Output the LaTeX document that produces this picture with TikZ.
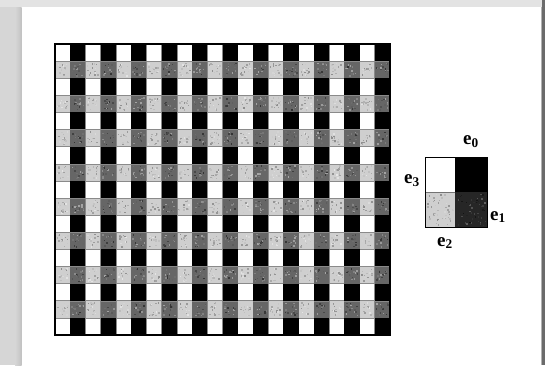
\documentclass[tikz,border=0pt]{standalone}
\usepackage{fontspec}
\setmainfont{Liberation Serif}
\definecolor{lgrey}{HTML}{CFCFCF}
\definecolor{dgrey}{HTML}{666666}
\definecolor{ddgrey}{HTML}{262626}
\definecolor{cellline}{HTML}{8A8A8A}
\definecolor{sidegrey}{HTML}{D6D6D6}
\tikzset{
  whitecell/.style={fill=white,draw=cellline,line width=0.6pt},
  lightcell/.style={fill=lgrey,draw=cellline,line width=0.6pt},
  darkcell/.style={fill=dgrey},
  blackcell/.style={fill=black},
  elabel/.style={font=\fontsize{19}{19}\selectfont\bfseries,inner sep=0pt}
}
\newcommand{\GX}{55}
\newcommand{\GY}{44}
\newcommand{\CW}{15.227}
\newcommand{\RH}{17.118}
\begin{document}
\begin{tikzpicture}[x=1pt,y=-1pt]
\useasboundingbox (0,0) rectangle (545,365);
% page background
\fill[white] (0,0) rectangle (545,365);
\fill[black!11] (0,0) rectangle (545,7);
\fill[sidegrey] (0,7) rectangle (15,365);
\shade[left color=sidegrey,right color=black!24] (15,7) rectangle (21.5,365);
\fill[black!58] (542,0) rectangle (545,365);
\fill[black!30] (541,7) rectangle (542,365);
\pgfmathsetseed{7}
% white/black rows
\foreach \r in {0,2,...,16}{
  \foreach \c in {0,2,...,20}{
    \filldraw[whitecell] ({\GX+\c*\CW},{\GY+\r*\RH}) rectangle +(\CW,\RH);
  }
}
% textured rows, light cells
\foreach \r in {1,3,...,15}{
  \foreach \c in {0,2,...,20}{
    \filldraw[lightcell] ({\GX+\c*\CW},{\GY+\r*\RH}) rectangle +(\CW,\RH);
    \foreach \k in {1,...,14}{
      \pgfmathsetmacro\px{\GX+\c*\CW+1.5+rnd*(\CW-4.5)}
      \pgfmathsetmacro\py{\GY+\r*\RH+1.5+rnd*(\RH-4.5)}
      \pgfmathsetmacro\pg{10+rnd*35}
      \fill[black!\pg] (\px,\py) rectangle +(1.5,1.5);
    }
  }
}
% black cells
\foreach \r in {0,2,...,16}{
  \foreach \c in {1,3,...,21}{
    \fill[blackcell] ({\GX+\c*\CW},{\GY+\r*\RH}) rectangle +(\CW,\RH);
  }
}
% textured rows, dark cells
\foreach \r in {1,3,...,15}{
  \foreach \c in {1,3,...,21}{
    \fill[darkcell] ({\GX+\c*\CW},{\GY+\r*\RH}) rectangle +(\CW,\RH);
    \draw[cellline,line width=0.5pt] ({\GX+\c*\CW},{\GY+\r*\RH}) -- +(\CW,0);
    \foreach \k in {1,...,14}{
      \pgfmathsetmacro\px{\GX+\c*\CW+1+rnd*(\CW-3.5)}
      \pgfmathsetmacro\py{\GY+\r*\RH+1.5+rnd*(\RH-4.5)}
      \pgfmathsetmacro\pg{35+rnd*45}
      \fill[black!\pg] (\px,\py) rectangle +(1.5,1.5);
    }
  }
}
% outer border
\draw[black,line width=1.1pt] (\GX,\GY) rectangle +({22*\CW},{17*\RH});
% legend square
\fill[white] (425,157) rectangle (455,192);
\fill[black] (455,157) rectangle (487,192);
\fill[lgrey] (425,192) rectangle (455,227);
\fill[ddgrey] (455,192) rectangle (487,227);
\foreach \k in {1,...,50}{
  \pgfmathsetmacro\px{426+rnd*27}
  \pgfmathsetmacro\py{193+rnd*32}
  \pgfmathsetmacro\pg{15+rnd*30}
  \fill[black!\pg] (\px,\py) rectangle +(1.4,1.4);
  \pgfmathsetmacro\qx{456+rnd*29}
  \pgfmathsetmacro\qy{193+rnd*32}
  \pgfmathsetmacro\qg{60+rnd*35}
  \fill[black!\qg] (\qx,\qy) rectangle +(1.4,1.4);
}
\draw[black!55,line width=0.8pt] (425,192) -- (455,192);
\draw[black,line width=1pt] (425,157) rectangle (487,227);
% labels
\node[elabel] (e0) at (471,142) {e\textsubscript{0}};
\node[elabel] (e3) at (412,181) {e\textsubscript{3}};
\node[elabel] (e1) at (498,217) {e\textsubscript{1}};
\node[elabel] (e2) at (445,243) {e\textsubscript{2}};
\end{tikzpicture}
\end{document}
